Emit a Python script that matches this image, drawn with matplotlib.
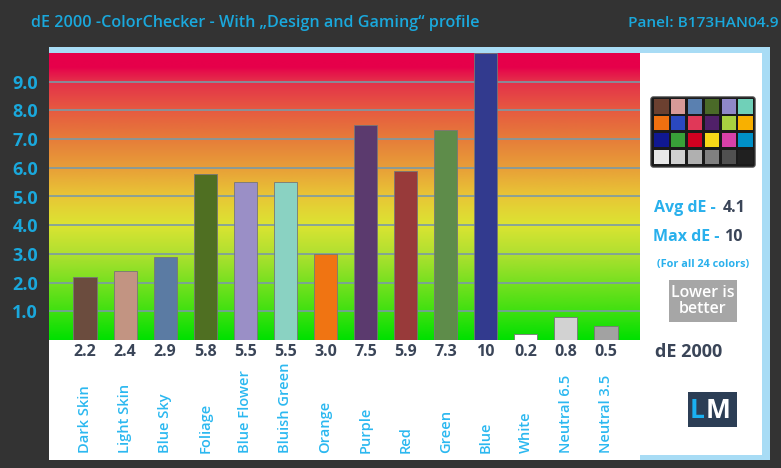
import matplotlib.pyplot as plt
import matplotlib.patches as mpatches
from matplotlib.colors import LinearSegmentedColormap
import numpy as np

#------------------------------------------------------------------------------

categories = ['Dark Skin', 'Light Skin', 'Blue Sky', 'Foliage', 'Blue Flower',
              'Bluish Green', 'Orange', 'Purple', 'Red', 'Green', 'Blue',
              'White', 'Neutral 6.5', 'Neutral 3.5']
values = [2.2, 2.4, 2.9, 5.8, 5.5, 5.5, 3.0, 7.5, 5.9, 7.3, 10, 0.2, 0.8, 0.5]
value_labels = ['2.2', '2.4', '2.9', '5.8', '5.5', '5.5', '3.0', '7.5', '5.9',
                '7.3', '10', '0.2', '0.8', '0.5']
bar_colors = ['#6b4c3e', '#c29482', '#5b7ba3', '#4f6f22', '#9a8fc6',
              '#8ad2c2', '#f07412', '#5b3a6e', '#983a3a', '#5e8c4a',
              '#323a8e', '#ffffff', '#d2d2d2', '#a2a2a2']
yticks = [1, 2, 3, 4, 5, 6, 7, 8, 9]

checker = [['#6b4030', '#d89a98', '#5a80b0', '#4a6a28', '#9088c8', '#70d0b8'],
           ['#f07010', '#2a48c0', '#e03858', '#502068', '#a8d040', '#f8b000'],
           ['#101890', '#38a038', '#d00020', '#f8d818', '#d840a8', '#0090c8'],
           ['#e8e8e8', '#d0d0d0', '#b0b0b0', '#808080', '#505050', '#202020']]

avg_de = '4.1'
max_de = '10'

#------------------------------------------------------------------------------

W, H = 781, 468
blue_txt = '#1aa8dc'
dark_txt = '#3a4558'
font = 'Open Sans'

fig = plt.figure(figsize=(W / 100, H / 100), dpi=100)
fig.patch.set_facecolor('#333333')

def fx(px): return px / W
def fy(py): return 1 - py / H

def fig_rect(x0, y0, x1, y1, color, z):
    # rectangle given in pixel coords (top-left origin)
    fig.patches.append(mpatches.Rectangle((fx(x0), fy(y1)), (x1 - x0) / W, (y1 - y0) / H,
                       transform=fig.transFigure, facecolor=color, edgecolor='none', zorder=z))

# white panel with light blue border strips
fig_rect(49, 47, 770, 460, 'white', -3)
fig_rect(49, 47, 770, 53, '#a8dcf5', -2)
fig_rect(762, 47, 770, 460, '#a8dcf5', -2)
fig_rect(640, 455, 770, 460, '#a8dcf5', -2)

fig.text(fx(31), fy(23), 'dE 2000 -ColorChecker - With \u201eDesign and Gaming\u201c profile',
         color=blue_txt, fontsize=11.6, family=font, fontweight='semibold', va='center')
fig.text(fx(778), fy(23), 'Panel: B173HAN04.9', color=blue_txt, fontsize=11.1,
         family=font, fontweight='semibold', va='center', ha='right')

#------------------------------------------------------------------------------

ax = fig.add_axes([fx(49), fy(340), fx(640 - 49), (340 - 53) / H])
ax.patch.set_alpha(0)
x = np.arange(len(categories))
ax.set_xlim(-0.9, 13.85)
ax.set_ylim(0, 10)

grad = LinearSegmentedColormap.from_list('grad', [
    (0.0, '#00e000'), (0.1, '#40e010'), (0.2, '#78e020'), (0.3, '#b0e030'),
    (0.4, '#dce432'), (0.5, '#e8c636'), (0.6, '#e89e38'), (0.7, '#e67c3a'),
    (0.8, '#e65a40'), (0.9, '#e4304a'), (0.95, '#e6004a'), (1.0, '#e6004a')])
ax.imshow(np.linspace(0, 1, 256).reshape(-1, 1), cmap=grad, aspect='auto',
          origin='lower', extent=(-0.9, 13.85, 0, 10), zorder=0)

for yv in yticks:
    ax.axhline(yv, color='#7a9aa6', lw=1.2, zorder=1)

ax.bar(x, values, width=0.58, color=bar_colors, edgecolor='#777777', lw=0.6, zorder=2)

ax.set_yticks(yticks)
ax.set_yticklabels(['%.1f' % v for v in yticks], color=blue_txt, fontsize=13,
                   family=font, fontweight='bold')
ax.tick_params(axis='y', length=0, pad=8)
ax.set_xticks([])
for s in ax.spines.values():
    s.set_visible(False)

for xi, lab in zip(x, value_labels):
    ax.text(xi, -0.42, lab, ha='center', va='center', color=dark_txt,
            fontsize=11.5, family=font, fontweight='bold', clip_on=False)
for xi, lab in zip(x, categories):
    ax.text(xi, -3.95, lab, ha='center', va='bottom', rotation=90, color='#2bb8f0',
            fontsize=10.5, family=font, fontweight='semibold', clip_on=False)

#------------------------------------------------------------------------------

# color checker card
cax = fig.add_axes([fx(650), fy(168), fx(106), (168 - 96) / H])
cax.set_xlim(0, 6.3)
cax.set_ylim(0, 4.3)
cax.axis('off')
cax.add_patch(mpatches.FancyBboxPatch((0.05, 0.05), 6.2, 4.2,
              boxstyle='round,pad=0,rounding_size=0.15', facecolor='#1a1a1a',
              edgecolor='#555555', lw=0.8))
for r, row in enumerate(checker):
    for c, col in enumerate(row):
        cax.add_patch(mpatches.Rectangle((0.25 + c * 1.0, 3.25 - r * 1.0), 0.85, 0.85,
                      facecolor=col, edgecolor='none'))

fig.text(fx(654), fy(208), 'Avg dE -', color='#29b0ec', fontsize=11.5, family=font,
         fontweight='bold', va='center')
fig.text(fx(723), fy(208), avg_de, color=dark_txt, fontsize=11.5, family=font,
         fontweight='bold', va='center')
fig.text(fx(653), fy(237), 'Max dE -', color='#29b0ec', fontsize=11.5, family=font,
         fontweight='bold', va='center')
fig.text(fx(724), fy(237), max_de, color=dark_txt, fontsize=11.5, family=font,
         fontweight='bold', va='center')
fig.text(fx(703), fy(265), '(For all 24 colors)', color='#29b0ec', fontsize=7.8,
         family=font, fontweight='bold', va='center', ha='center')
fig_rect(669, 280, 737, 322, '#a6a6a6', 2)
fig.text(fx(703), fy(301), 'Lower is\nbetter', color='white', fontsize=11.5, family=font,
         fontweight='semibold', va='center', ha='center', linespacing=1.0)
fig.text(fx(655), fy(352), 'dE 2000', color=dark_txt, fontsize=13, family=font,
         fontweight='bold', va='center')

# LM logo
fig_rect(688, 392, 737, 427, '#2c3e55', 2)
fig.text(fx(705), fy(410), 'L', color='#1ab0f0', fontsize=19, family=font,
         fontweight='bold', va='center', ha='right')
fig.text(fx(706), fy(410), 'M', color='white', fontsize=19, family=font,
         fontweight='bold', va='center', ha='left')

fig.savefig('out.png', dpi=100, facecolor=fig.get_facecolor())
